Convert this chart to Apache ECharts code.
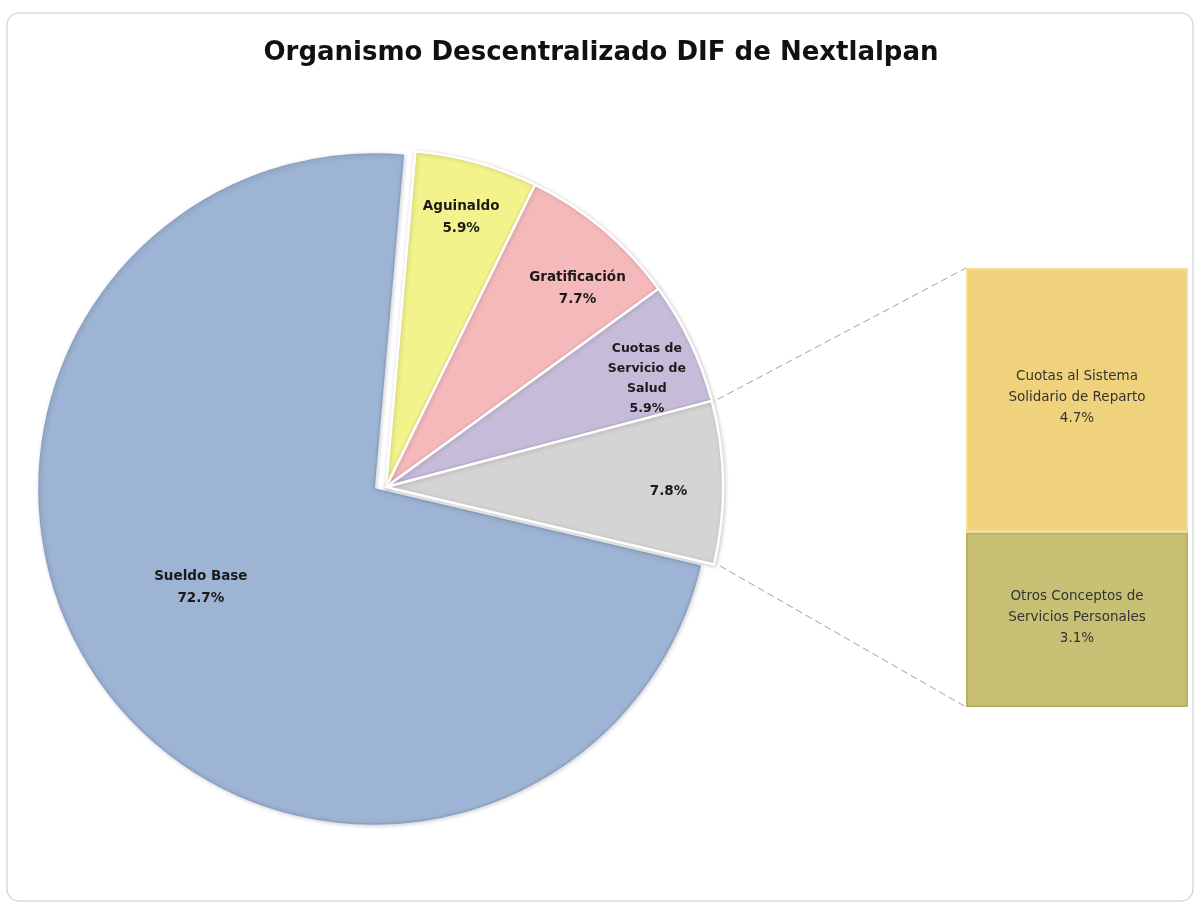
<!DOCTYPE html>
<html>
<head>
<meta charset="utf-8">
<script src="https://cdn.jsdelivr.net/npm/echarts@6/dist/echarts.min.js"></script>
<style>
html,body{margin:0;padding:0;background:#fff;}
#chart{width:1202px;height:908px;}
</style>
</head>
<body>
<div id="chart"></div>
<script>
// ---- data ----
const titleText = 'Organismo Descentralizado DIF de Nextlalpan';
const pieNames = ['Aguinaldo', 'Gratificación', 'Cuotas de Servicio de Salud', 'Otros', 'Sueldo Base'];
const pieLabels = ['Aguinaldo', 'Gratificación', 'Cuotas de\nServicio de\nSalud', '', 'Sueldo Base'];
const pieValues = [5.9, 7.7, 5.9, 7.8, 72.7];
const barNames = ['Cuotas al Sistema\nSolidario de Reparto', 'Otros Conceptos de\nServicios Personales'];
const barValues = [4.7, 3.1];

// ---- style ----
const pieColors = ['#F3F38C', '#F5B9BB', '#C6BCD9', '#D4D4D4', '#9DB4D5'];
const pieBorders = ['#c4c98a', '#e8c9ca', '#ddd6e6', '#bdbdbd', '#8aa1c4'];
const labelOffsets = [[29, -104], [81, -67], [106, -35], [111, 7], [-35, -1]];
const barColors = ['#F0D27C', '#C8C074'];
const barBorders = ['#f5dc98', '#b8b066'];
const START = 85;
const SMALL_CENTER = [386, 487];
const BIG_CENTER = [374, 489];
const R_SMALL = 337;
const R_BIG = 335;
const FONT = 'DejaVu Sans, Verdana, sans-serif';

const chart = echarts.init(document.getElementById('chart'), null, {renderer: 'canvas'});

function pieData(showBig) {
  return pieValues.map(function (v, i) {
    const isBig = (i === pieValues.length - 1);
    const visible = showBig ? isBig : !isBig;
    return {
      name: pieNames[i],
      value: v,
      itemStyle: visible ? {
        color: pieColors[i],
        borderColor: isBig ? pieBorders[i] : '#ffffff',
        borderWidth: isBig ? 1.5 : 2.5,
        shadowColor: 'rgba(0,0,0,0.18)',
        shadowBlur: 4,
        shadowOffsetX: 1,
        shadowOffsetY: 1
      } : {color: 'rgba(0,0,0,0)', borderWidth: 0},
      label: visible ? {
        show: true,
        offset: labelOffsets[i],
        formatter: function () {
          const pct = v.toFixed(1) + '%';
          return pieLabels[i] ? pieLabels[i] + '\n' + pct : pct;
        },
        fontSize: (i === 2) ? 12.5 : 13.5,
        lineHeight: (i === 2) ? 20 : 22
      } : {show: false},
      emphasis: {disabled: true}
    };
  });
}

const pieBase = {
  type: 'pie',
  startAngle: START,
  clockwise: true,
  avoidLabelOverlap: false,
  silent: true,
  label: {
    position: 'inside',
    color: '#1a1a1a',
    fontWeight: 'bold',
    fontFamily: FONT,
    align: 'center'
  },
  labelLine: {show: false}
};

const barTotal = barValues.reduce(function (a, b) { return a + b; }, 0);
const barSeries = [];
for (let k = barValues.length - 1; k >= 0; k--) {
  barSeries.push({
    type: 'bar',
    stack: 'otros',
    barWidth: '100%',
    silent: true,
    data: [barValues[k]],
    itemStyle: {color: barColors[k], borderColor: barBorders[k], borderWidth: 2},
    label: {
      show: true,
      position: 'inside',
      offset: k === 0 ? [0, -3] : [0, -2],
      formatter: barNames[k] + '\n' + barValues[k].toFixed(1) + '%',
      color: '#333333',
      fontSize: 13.5,
      lineHeight: 21,
      fontFamily: FONT,
      align: 'center'
    }
  });
}

const option = {
  animation: false,
  backgroundColor: '#ffffff',
  title: {
    text: titleText,
    left: 'center',
    top: 35,
    textStyle: {fontSize: 26, fontWeight: 'bold', color: '#111', fontFamily: FONT}
  },
  grid: {left: 966, top: 268, width: 222, height: 439},
  xAxis: {type: 'category', data: ['x'], show: false},
  yAxis: {type: 'value', min: 0, max: barTotal, show: false},
  series: [
    Object.assign({}, pieBase, {center: BIG_CENTER, radius: R_BIG, data: pieData(true), z: 2}),
    Object.assign({}, pieBase, {center: SMALL_CENTER, radius: R_SMALL, data: pieData(false), z: 3})
  ].concat(barSeries)
};
chart.setOption(option);

// connector lines from the "Otros" slice to the bar
const gridRect = chart.getModel().getComponent('grid', 0).coordinateSystem.getRect();
const topPt = chart.convertToPixel({gridIndex: 0}, ['x', barTotal]);
const botPt = chart.convertToPixel({gridIndex: 0}, ['x', 0]);
const barLeft = gridRect.x;
let before = 0;
for (let i = 0; i < 3; i++) before += pieValues[i];
const total = pieValues.reduce(function (a, b) { return a + b; }, 0);
const a1 = (START - before / total * 360) * Math.PI / 180;
const a2 = (START - (before + pieValues[3]) / total * 360) * Math.PI / 180;
const RC = R_SMALL + 6;
const p1 = [SMALL_CENTER[0] + RC * Math.cos(a1), SMALL_CENTER[1] - RC * Math.sin(a1)];
const p2 = [SMALL_CENTER[0] + RC * Math.cos(a2), SMALL_CENTER[1] - RC * Math.sin(a2)];

chart.setOption({
  graphic: [
    {type: 'rect', shape: {x: 7, y: 13, width: 1186, height: 888, r: 12},
      style: {fill: 'none', stroke: '#d9d9d9', lineWidth: 1.5}, silent: true, z: -10},
    {type: 'line', shape: {x1: p1[0], y1: p1[1], x2: barLeft, y2: topPt[1]},
      style: {stroke: '#a0a0a0', lineWidth: 1, lineDash: [7, 4]}, silent: true},
    {type: 'line', shape: {x1: p2[0], y1: p2[1], x2: barLeft, y2: botPt[1]},
      style: {stroke: '#a0a0a0', lineWidth: 1, lineDash: [7, 4]}, silent: true}
  ]
});
</script>
</body>
</html>
